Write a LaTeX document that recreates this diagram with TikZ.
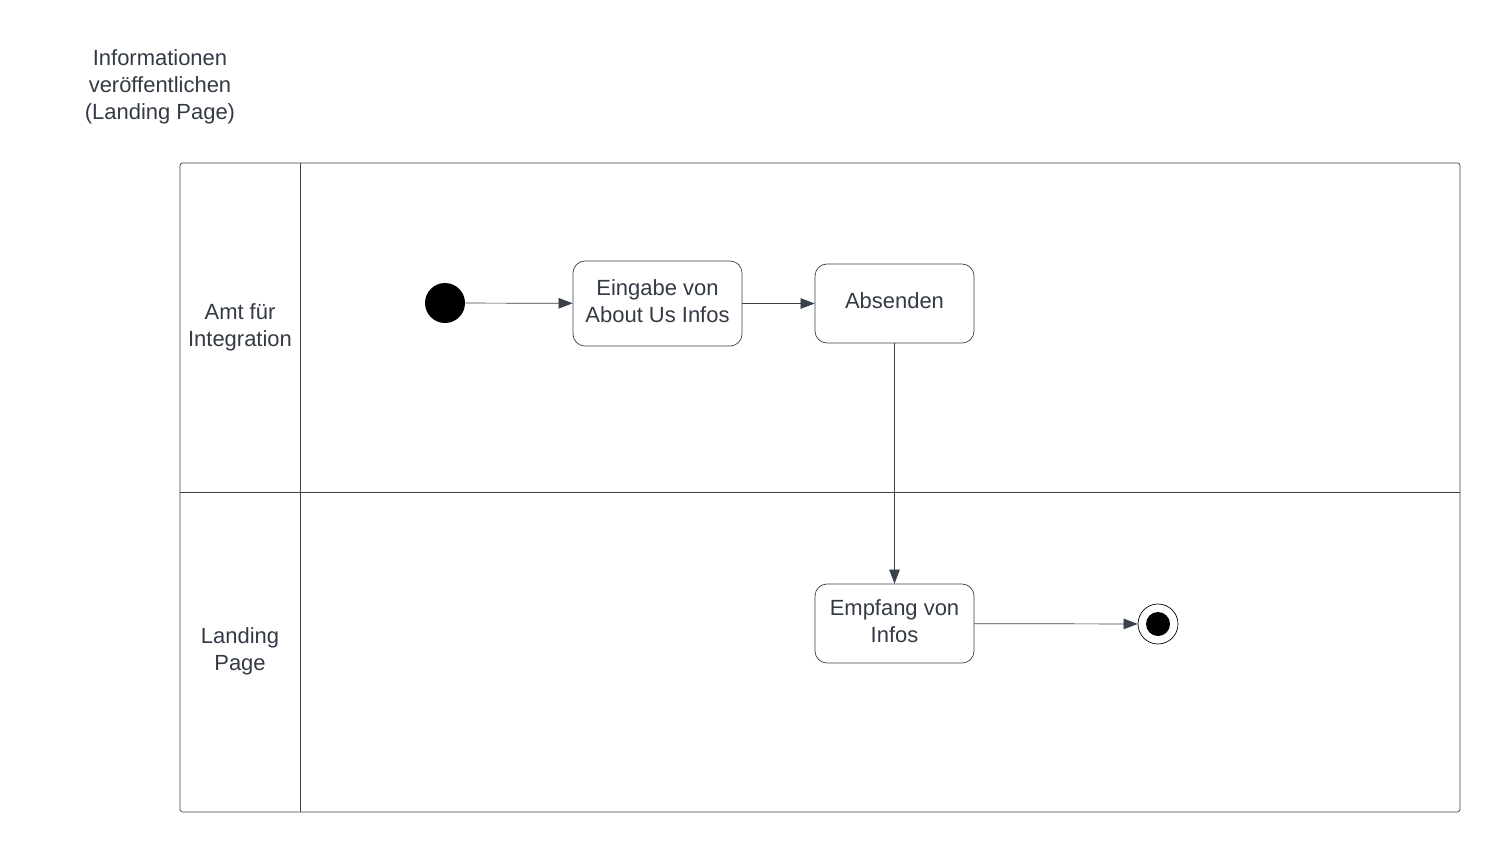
\documentclass[tikz,border=0pt]{standalone}
\usepackage{fontspec}
\setmainfont{Liberation Sans}
\usetikzlibrary{arrows.meta}
\definecolor{linie}{HTML}{3A414A}
\definecolor{schrift}{HTML}{333A45}
\tikzset{
  aktion/.style={draw=linie,thin,rounded corners=12pt*0.02/0.0352778,align=center,
    text=schrift,inner sep=0pt},
  pfeil/.style={draw=linie,thin,-{Triangle[length=8pt,width=6pt]}},
  txt/.style={align=center,text=schrift,font=\fontsize{12.5}{15.2}\selectfont}
}
\begin{document}
\begin{tikzpicture}[x=0.02cm,y=-0.02cm,every node/.style={font=\fontsize{12.5}{15.2}\selectfont}]
\useasboundingbox (0,0) rectangle (1500,852);
% Titel
\node[txt] (titel) at (160,87) {Informationen\\veröffentlichen\\(Landing Page)};
% Schwimmbahnen
\draw[linie,thin,rounded corners=1.5pt] (180,163) rectangle (1460,812);
\draw[linie,thin] (300,163) -- (300,812);
\draw[linie,thin] (180,492) -- (1460,492);
\node[txt] (amt) at (240,327) {Amt für\\Integration};
\node[txt] (lp) at (240,651.5) {Landing\\Page};
% Knoten
\node[circle,fill=black,minimum size=40*0.02cm,inner sep=0pt] (start) at (445,303) {};
\node[aktion,minimum width=169*0.02cm,minimum height=85*0.02cm] (eingabe) at (657.5,303.5)
  {\raisebox{2pt}{\begin{tabular}{@{}c@{}}Eingabe von\\About Us Infos\end{tabular}}};
\node[aktion,minimum width=159*0.02cm,minimum height=79*0.02cm] (absenden) at (894.5,303.5)
  {\raisebox{3pt}{Absenden}};
\node[aktion,minimum width=159*0.02cm,minimum height=79*0.02cm] (empfang) at (894.5,623.5)
  {\raisebox{3pt}{\begin{tabular}{@{}c@{}}Empfang von\\Infos\end{tabular}}};
\node[circle,draw=black,thin,minimum size=40*0.02cm,inner sep=0pt] (ende) at (1158,624) {};
\fill (ende) circle[radius=12];
% Kanten
\draw[pfeil] (start) -- (eingabe);
\draw[pfeil] (eingabe) -- (absenden);
\draw[pfeil] (absenden) -- (empfang);
\draw[pfeil] (empfang) -- (ende);
\end{tikzpicture}
\end{document}
